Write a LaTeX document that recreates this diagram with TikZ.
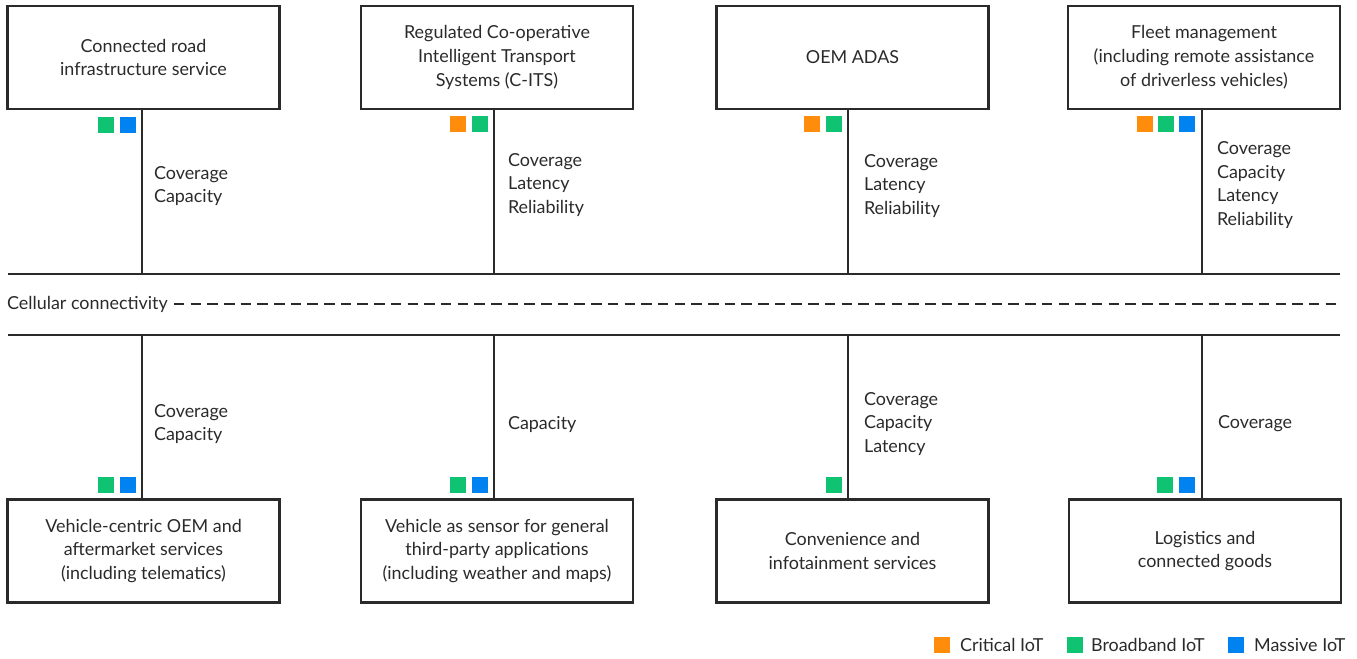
\documentclass[tikz,border=0pt]{standalone}
\usepackage{fontspec}
\setmainfont{Lato}
\usetikzlibrary{positioning}
\definecolor{critical}{HTML}{FF8C0A}
\definecolor{broadband}{HTML}{0FC373}
\definecolor{massive}{HTML}{0082F0}
\definecolor{inkgray}{HTML}{2A2A2A}
\begin{document}
\begin{tikzpicture}[x=0.02cm, y=-0.02cm, line width=1.2pt, draw=inkgray, text=inkgray,
    every node/.style={font=\fontsize{10.2}{13.6}\selectfont},
    svcbox/.style={draw, rectangle, minimum width=5.44cm, minimum height=2.06cm, align=center, inner sep=0pt},
    iotsq/.style={rectangle, minimum size=0.32cm, inner sep=0pt},
    req/.style={anchor=west, align=left, inner sep=0pt}]
    \useasboundingbox (0,0) rectangle (1357,659);
    % service boxes, top row
    \node[svcbox] (t1) at (143.5,57.5) {Connected road\\infrastructure service};
    \node[svcbox] (t2) at (497,57.5) {Regulated Co-operative\\Intelligent Transport\\Systems (C-ITS)};
    \node[svcbox] (t3) at (852.5,57.5) {OEM ADAS};
    \node[svcbox] (t4) at (1204,57.5) {Fleet management\\(including remote assistance\\of driverless vehicles)};
    % service boxes, bottom row
    \node[svcbox] (b1) at (143.5,551) {Vehicle-centric OEM and\\aftermarket services\\(including telematics)};
    \node[svcbox] (b2) at (497,551) {Vehicle as sensor for general\\third-party applications\\(including weather and maps)};
    \node[svcbox] (b3) at (852.5,551) {Convenience and\\infotainment services};
    \node[svcbox] (b4) at (1205,551) {Logistics and\\connected goods};
    % network lines
    \coordinate (nw) at (8,274);  \coordinate (ne) at (1340,274);
    \coordinate (sw) at (8,335);  \coordinate (se) at (1340,335);
    \draw (nw) -- (ne);
    \draw (sw) -- (se);
    \node[anchor=west, inner sep=0pt] (cell) at (6,304) {Cellular connectivity};
    \coordinate (cellend) at (1340,304);
    \draw[dashed, dash pattern=on 6pt off 3.5pt, line width=1pt] ([xshift=0.1cm]cell.east) -- (cellend);
    % connectors
    \foreach \n/\x in {1/142,2/494,3/848,4/1202} {
        \draw (\x,0 |- t\n.south) -- (\x,274);
        \draw (\x,335) -- (\x,0 |- b\n.north);
    }
    % iot squares, top
    \node[iotsq, fill=massive, anchor=north east] (t1m) at (137,116) {};
    \node[iotsq, fill=broadband, left=0.08cm of t1m] (t1b) {};
    \node[iotsq, fill=broadband, anchor=north east] (t2b) at (489,115) {};
    \node[iotsq, fill=critical, left=0.08cm of t2b] (t2c) {};
    \node[iotsq, fill=broadband, anchor=north east] (t3b) at (843,115) {};
    \node[iotsq, fill=critical, left=0.08cm of t3b] (t3c) {};
    \node[iotsq, fill=massive, anchor=north east] (t4m) at (1196,115) {};
    \node[iotsq, fill=broadband, left=0.06cm of t4m] (t4b) {};
    \node[iotsq, fill=critical, left=0.06cm of t4b] (t4c) {};
    % iot squares, bottom
    \node[iotsq, fill=massive, anchor=south east] (b1m) at (137,494) {};
    \node[iotsq, fill=broadband, left=0.08cm of b1m] (b1b) {};
    \node[iotsq, fill=massive, anchor=south east] (b2m) at (489,494) {};
    \node[iotsq, fill=broadband, left=0.08cm of b2m] (b2b) {};
    \node[iotsq, fill=broadband, anchor=south east] (b3b) at (843,494) {};
    \node[iotsq, fill=massive, anchor=south east] (b4m) at (1196,494) {};
    \node[iotsq, fill=broadband, left=0.08cm of b4m] (b4b) {};
    % requirements
    \node[req] (t1r) at (153,186) {Coverage\\Capacity};
    \node[req] (t2r) at (507,185) {Coverage\\Latency\\Reliability};
    \node[req] (t3r) at (863,186) {Coverage\\Latency\\Reliability};
    \node[req] (t4r) at (1216,185) {Coverage\\Capacity\\Latency\\Reliability};
    \node[req] (b1r) at (153,424) {Coverage\\Capacity};
    \node[req] (b2r) at (507,424) {Capacity};
    \node[req] (b3r) at (863,424) {Coverage\\Capacity\\Latency};
    \node[req] (b4r) at (1217,424) {Coverage};
    % legend
    \node[iotsq, fill=critical] (lc) at (942,645) {};
    \node[req, right=0.16cm of lc] (lct) {Critical IoT};
    \node[iotsq, fill=broadband] (lb) at (1075,645) {};
    \node[req, right=0.12cm of lb] (lbt) {Broadband IoT};
    \node[iotsq, fill=massive] (lm) at (1236,645) {};
    \node[req, right=0.16cm of lm] (lmt) {Massive IoT};
\end{tikzpicture}
\end{document}
